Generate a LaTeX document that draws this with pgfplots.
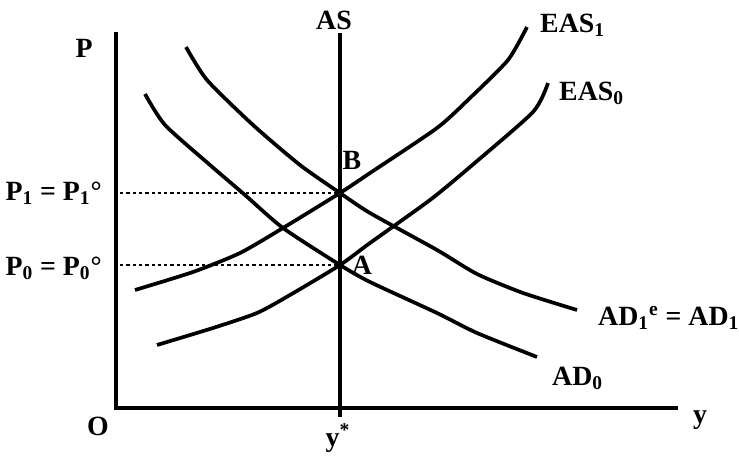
\documentclass[border=0pt]{standalone}
\usepackage{fontspec}
\setmainfont{Liberation Serif}
\usepackage{pgfplots}
\pgfplotsset{compat=1.18}
\tikzset{lab/.style={font=\fontsize{15}{17}\selectfont\bfseries,inner sep=1pt}}
\begin{document}
\begin{tikzpicture}
\begin{axis}[
  width=14cm,height=8.657cm,scale only axis,
  xmin=0,xmax=739,ymin=0,ymax=457,y dir=reverse,
  hide axis,clip=false,
]
% axes
\addplot[black,line width=2.4pt] coordinates {(116,32)(116,408)(678,408)};
% AS
\addplot[black,line width=1.9pt] coordinates {(340,33)(340,417)};
% dotted price levels
\addplot[black,line width=1.5pt,dash pattern=on 1.8pt off 1.6pt] coordinates {(120,193)(340,193)};
\addplot[black,line width=1.5pt,dash pattern=on 1.8pt off 1.6pt] coordinates {(120,265)(340,265)};
% AD1
\addplot[black,line width=2pt,smooth,tension=0.4] coordinates {(186,47)(207,80)(253,125)(300,165)(340,193)(370,213)(437,250)(477,274)(523,293)(577,310)};
% AD0
\addplot[black,line width=2pt,smooth,tension=0.4] coordinates {(145,94)(165,125)(210,165)(245,195)(283,228)(340,265)(370,282)(437,313)(477,333)(537,357)};
% EAS0
\addplot[black,line width=2pt,smooth,tension=0.4] coordinates {(157,345)(213,328)(257,313)(290,295)(340,265)(370,243)(430,200)(470,167)(533,112)(548,83)};
% EAS1
\addplot[black,line width=2pt,smooth,tension=0.4] coordinates {(135,290)(193,272)(240,253)(283,228)(340,193)(370,173)(437,128)(470,98)(508,60)(527,27)};
% labels
\node[lab] at (axis cs:334,20) {AS};
\node[lab] at (axis cs:84,48) {P};
\node[lab] at (axis cs:98,426) {O};
\node[lab] at (axis cs:700,420) {y};
\node[lab] at (axis cs:338,438) {y\textsuperscript{*}};
\node[lab,anchor=east] at (axis cs:104,193) {P\textsubscript{1} = P\textsubscript{1}°};
\node[lab,anchor=east] at (axis cs:104,268) {P\textsubscript{0} = P\textsubscript{0}°};
\node[lab] at (axis cs:352,160) {B};
\node[lab] at (axis cs:362,265) {A};
\node[lab,anchor=west] at (axis cs:538,25) {EAS\textsubscript{1}};
\node[lab,anchor=west] at (axis cs:557,93) {EAS\textsubscript{0}};
\node[lab,anchor=west] at (axis cs:596,318) {AD\textsubscript{1}\textsuperscript{e} = AD\textsubscript{1}};
\node[lab,anchor=west] at (axis cs:550,378) {AD\textsubscript{0}};
\coordinate (ll) at (axis cs:0,457);
\coordinate (ur) at (axis cs:739,0);
\end{axis}
\pgfresetboundingbox
\path (ll) rectangle (ur);
\end{tikzpicture}
\end{document}
